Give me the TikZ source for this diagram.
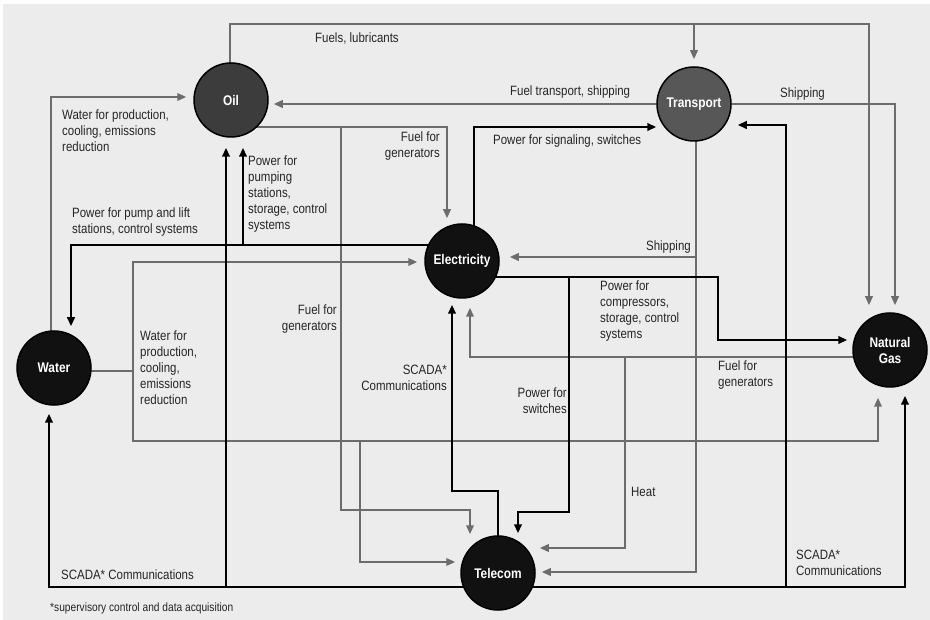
\documentclass[tikz,border=0pt]{standalone}
\usepackage{fontspec}
\setmainfont{Liberation Sans}[FakeStretch=0.85]
\usetikzlibrary{arrows.meta}
\pgfdeclarelayer{bg}
\pgfsetlayers{bg,main}
\definecolor{paper}{HTML}{ECECEC}
\definecolor{lineGray}{HTML}{6C6C6C}
\definecolor{oilGray}{HTML}{3C3C3C}
\definecolor{transGray}{HTML}{575757}
\definecolor{hubBlack}{HTML}{111111}
\begin{document}
\begin{tikzpicture}
        [x=1pt, y=-1pt, >={Triangle[length=9pt,width=7.5pt]},
        hub/.style={circle, draw=black, line width=1.5pt, minimum size=74pt, inner sep=0pt, fill=hubBlack, text=white, align=center, font=\fontsize{14}{16}\selectfont\bfseries},
        hubGray/.style={hub, fill=oilGray},
        lbl/.style={inner sep=0pt, text=black!85, font=\fontsize{13.5}{16}\selectfont},
        gline/.style={draw=lineGray, line width=2pt},
        bline/.style={draw=black, line width=2.4pt}]
        \useasboundingbox (0,0) rectangle (930,620);
        \begin{pgfonlayer}{bg}
        \fill[white] (0,0) rectangle (930,620);
        \fill[paper] (3,4) rectangle (930,620);
        \end{pgfonlayer}

        \node[hubGray] (Oil) at (231,100) {Oil};
        \node[hub, fill=transGray] (Transport) at (694,104) {Transport};
        \node[hub] (Elec) at (462,261) {Electricity};
        \node[hub] (Water) at (54,368) {Water};
        \node[hub] (NG) at (890,350) {Natural\\Gas};
        \node[hub] (Telecom) at (498,573) {Telecom};

        \begin{pgfonlayer}{bg}
        % oil and transport
        \coordinate (fuelL) at (230,24);
        \coordinate (fuelR) at (869,24);
        \draw[gline, ->, shorten >=7pt] (fuelL |- Oil.center) -- (fuelL) -- (fuelR) -- (fuelR |- NG.north);
        \draw[gline, ->, shorten >=7pt] (Transport.center |- fuelR) -- (Transport.north);
        \draw[gline, ->, shorten >=5pt] (Transport.center) -- (Transport.center -| Oil.east);
        \draw[gline, ->, shorten >=7pt] (Transport.center) -| ([xshift=5pt]NG.north);
        \coordinate (fgA) at (447,127);
        \coordinate (fgB) at (341,127);
        \coordinate (fgC) at (341,510);
        \coordinate (fgD) at (470,510);
        \draw[gline, ->, shorten >=5pt] (Oil.center |- fgA) -- (fgA) -- (fgA |- Elec.north);
        \draw[gline, ->, shorten >=1pt] (fgB) -- (fgC) -- (fgD) -- (fgD |- Telecom.north);
        \coordinate (trA) at (696,257);
        \coordinate (trB) at (696,572);
        \draw[gline, ->, shorten >=6pt] (trA |- Transport.center) -- (trB) -- (trB -| Telecom.east);
        \draw[gline, ->, shorten >=10pt] (trA) -- (trA -| Elec.east);

        % water
        \coordinate (wtO) at (51,97);
        \draw[gline, ->, shorten >=7pt] (wtO |- Water.center) -- (wtO) -- (wtO -| Oil.west);
        \coordinate (wa) at (133,371);
        \coordinate (wUp) at (133,262);
        \coordinate (wDn) at (133,441);
        \coordinate (wNG) at (878,441);
        \coordinate (wTel) at (360,441);
        \coordinate (wTel2) at (360,562);
        \draw[gline, ->, shorten >=7pt] (Water.center |- wa) -- (wa) -- (wUp) -- (wUp -| Elec.west);
        \draw[gline, ->, shorten >=10pt] (wa) -- (wDn) -- (wNG) -- (wNG |- NG.south);
        \draw[gline, ->, shorten >=5pt] (wTel) -- (wTel2) -- (wTel2 -| Telecom.west);

        % natural gas
        \coordinate (gA) at (470,357);
        \coordinate (gB) at (625,357);
        \coordinate (gC) at (625,548);
        \draw[gline, ->, shorten >=9pt] (NG.center |- gA) -- (gA) -- (gA |- Elec.south);
        \draw[gline, ->, shorten >=4pt] (gB) -- (gC) -- (gC -| Telecom.east);

        % electricity
        \coordinate (sig) at (474,127);
        \draw[bline, ->] (sig |- Elec.center) -- (sig) -- (sig -| Transport.west);
        \coordinate (pwA) at (71,245);
        \coordinate (pwOil) at (243,245);
        \draw[bline, ->, shorten >=4pt] (Elec.center |- pwA) -- (pwA) -- (pwA |- Water.north);
        \draw[bline, ->, shorten >=10pt] (pwOil) -- (pwOil |- Oil.south);
        \coordinate (eA) at (718,277);
        \coordinate (eB) at (718,340);
        \coordinate (eS) at (569,277);
        \coordinate (eS2) at (569,512);
        \coordinate (eS3) at (518,512);
        \draw[bline, ->, shorten >=5pt] (Elec.center |- eA) -- (eA) -- (eB) -- (eB -| NG.west);
        \draw[bline, ->, shorten >=2pt] (eS) -- (eS2) -- (eS3) -- (eS3 |- Telecom.north);

        % telecom
        \coordinate (scL) at (49,587);
        \coordinate (scR) at (905,587);
        \coordinate (scOil) at (226,587);
        \coordinate (scTr) at (786,587);
        \coordinate (scTrTop) at (786,125);
        \draw[bline, ->, shorten >=8pt] (Telecom.center |- scL) -- (scL) -- (scL |- Water.south);
        \draw[bline, ->, shorten >=8pt] (Telecom.center |- scR) -- (scR) -- (scR |- NG.south);
        \draw[bline, ->, shorten >=10pt] (scOil) -- (scOil |- Oil.south);
        \draw[bline, ->, shorten >=6pt] (scTr) -- (scTrTop) -- (scTrTop -| Transport.east);
        \coordinate (scE1) at (498,491);
        \coordinate (scE2) at (452,491);
        \draw[bline, ->, shorten >=6pt] (Telecom.center) -- (scE1) -- (scE2) -- (scE2 |- Elec.south);
        \end{pgfonlayer}

        \node[lbl, anchor=west] (lFuels) at (315,38) {Fuels, lubricants};
        \node[lbl, anchor=west] (lFuelTr) at (510,92) {Fuel transport, shipping};
        \node[lbl, anchor=west] (lShipTop) at (780,94) {Shipping};
        \node[lbl, anchor=west] (lSignal) at (493,141) {Power for signaling, switches};
        \node[lbl, anchor=east] (lShipMid) at (691,247) {Shipping};
        \node[lbl, anchor=north west, align=left] (lWaterOil) at (62,110) {Water for production,\\cooling, emissions\\reduction};
        \node[lbl, anchor=north east, align=right] (lGenElec) at (440,132) {Fuel for\\generators};
        \node[lbl, anchor=north west, align=left] (lPumpOil) at (248,156) {Power for\\pumping\\stations,\\storage, control\\systems};
        \node[lbl, anchor=north west, align=left] (lPumpWater) at (72,208) {Power for pump and lift\\stations, control systems};
        \node[lbl, anchor=north west, align=left] (lCompr) at (600,281) {Power for\\compressors,\\storage, control\\systems};
        \node[lbl, anchor=north east, align=right] (lGenTel) at (337,305) {Fuel for\\generators};
        \node[lbl, anchor=north west, align=left] (lWaterElec) at (140,331) {Water for\\production,\\cooling,\\emissions\\reduction};
        \node[lbl, anchor=north east, align=right] (lScadaElec) at (447,365) {SCADA*\\Communications};
        \node[lbl, anchor=north east, align=right] (lSwitch) at (567,388) {Power for\\switches};
        \node[lbl, anchor=north west, align=left] (lGenNG) at (718,361) {Fuel for\\generators};
        \node[lbl, anchor=west] (lHeat) at (631,492) {Heat};
        \node[lbl, anchor=north west, align=left] (lScadaNG) at (796,550) {SCADA*\\Communications};
        \node[lbl, anchor=west] (lScadaWater) at (61,575) {SCADA* Communications};
        \node[lbl, anchor=west, font=\fontsize{12}{14}\selectfont] (lNote) at (50,608) {*supervisory control and data acquisition};
    \end{tikzpicture}
\end{document}
